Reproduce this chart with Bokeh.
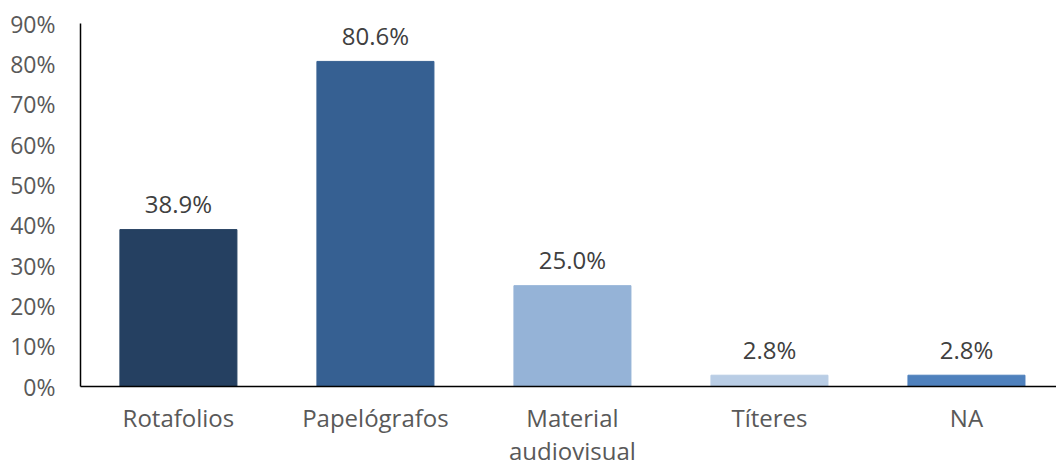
from bokeh.plotting import figure
from bokeh.models import ColumnDataSource, Range1d, FixedTicker, PrintfTickFormatter
from bokeh.core.properties import value
from bokeh.embed import file_html
from bokeh.resources import INLINE

categories = ["Rotafolios", "Papelógrafos", "Material audiovisual", "Títeres", "NA"]
tick_labels = ["Rotafolios", "Papelógrafos", "Material\naudiovisual", "Títeres", "NA"]
values = [38.9, 80.6, 25.0, 2.8, 2.8]
colors = ["#254061", "#366092", "#95B3D7", "#B9CDE5", "#4F81BD"]
y_ticks = [0, 10, 20, 30, 40, 50, 60, 70, 80, 90]

FONT = "Open Sans"

positions = list(range(len(categories)))
src = ColumnDataSource(dict(
    x=positions,
    top=values,
    color=colors,
    label=[f"{v:.1f}%" for v in values],
))

p = figure(width=1056, height=469, output_backend="svg", toolbar_location=None,
           x_range=Range1d(-0.497, 4.457), y_range=Range1d(0, 90),
           min_border_left=80, min_border_right=0, min_border_top=23, min_border_bottom=78)
p.outline_line_color = None
p.xgrid.grid_line_color = None
p.ygrid.grid_line_color = None

p.vbar(x="x", top="top", width=0.594, color="color", source=src)
p.text(x="x", y="top", text="label", source=src, y_offset=-26,
       text_align="center", text_baseline="middle", text_color="#404040",
       text_font=value(FONT), text_font_size="24px")

p.xaxis.ticker = FixedTicker(ticks=positions)
p.xaxis.major_label_overrides = {i: t for i, t in enumerate(tick_labels)}
p.xaxis.major_tick_line_color = None
p.xaxis.major_tick_out = 0
p.xaxis.major_tick_in = 0
p.xaxis.minor_tick_line_color = None
p.xaxis.axis_line_color = "#000000"
p.xaxis.axis_line_width = 1.5
p.xaxis.major_label_text_font = FONT
p.xaxis.major_label_text_font_size = "24px"
p.xaxis.major_label_text_line_height = 1.0
p.xaxis.major_label_text_color = "#595959"
p.xaxis.major_label_standoff = 14

p.yaxis.ticker = FixedTicker(ticks=y_ticks)
p.yaxis.formatter = PrintfTickFormatter(format="%d%%")
p.yaxis.major_tick_line_color = None
p.yaxis.major_tick_out = 0
p.yaxis.major_tick_in = 0
p.yaxis.minor_tick_line_color = None
p.yaxis.axis_line_color = "#000000"
p.yaxis.axis_line_width = 1.5
p.yaxis.major_label_text_font = FONT
p.yaxis.major_label_text_font_size = "23px"
p.yaxis.major_label_text_color = "#595959"
p.yaxis.major_label_standoff = 25

open("out.html", "w").write(file_html(p, INLINE))
